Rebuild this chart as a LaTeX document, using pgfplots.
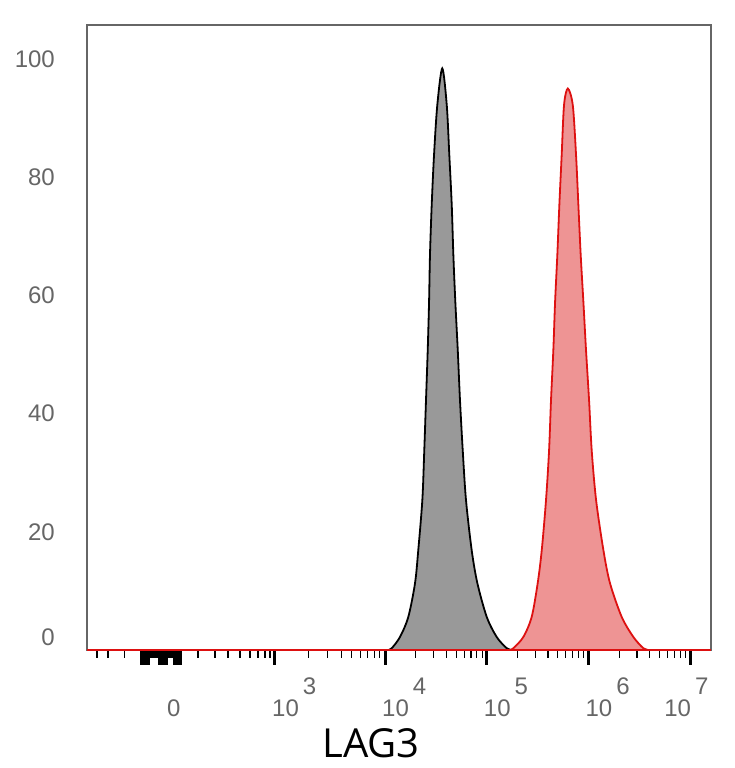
\documentclass[border=0pt]{standalone}
\usepackage{fontspec}
\setmainfont{Liberation Sans}
\newfontfamily\labfont{Open Sans}
\usepackage{pgfplots}
\usepackage{pgfplotstable}
\pgfplotsset{compat=1.18}
\definecolor{framegray}{HTML}{666666}
\definecolor{ticklab}{HTML}{666666}
\definecolor{grayfill}{HTML}{999999}
\definecolor{redfill}{HTML}{EE9494}
\definecolor{redline}{HTML}{DD1111}

\newcommand{\ex}[1]{10\hspace{4pt}\raisebox{22pt}{#1}}

% x in display decades (biexponential scale), y in % of max
\pgfplotstableread{
x y
4.030 0
4.066 0.3
4.147 2.2
4.229 5.6
4.295 11.3
4.327 16.9
4.367 25.4
4.386 33.8
4.403 42.3
4.420 50.8
4.433 58.9
4.442 66.8
4.459 75.3
4.482 83.8
4.514 92.2
4.563 98.4
4.607 92.2
4.632 83.8
4.656 75.3
4.672 66.8
4.691 59.0
4.715 50.8
4.737 42.3
4.764 33.8
4.796 25.4
4.852 16.9
4.908 11.3
5.000 5.6
5.098 2.2
5.197 0.3
5.249 0
}\isotype

\pgfplotstableread{
x y
5.229 0
5.262 0.3
5.360 2.2
5.442 5.6
5.501 11.3
5.541 16.9
5.583 25.4
5.613 33.8
5.632 42.3
5.655 50.8
5.672 58.9
5.694 66.8
5.714 75.3
5.737 83.8
5.760 92.2
5.797 95.0
5.846 92.2
5.878 83.8
5.901 75.3
5.924 66.8
5.950 59.0
5.976 50.8
6.006 42.3
6.032 33.8
6.075 25.4
6.147 16.9
6.212 11.3
6.327 5.6
6.442 2.2
6.540 0.3
6.596 0
}\lagthree

\pgfplotstableread{
x y
1.07 0
7.205 0
}\baseline

\begin{document}
\begin{tikzpicture}
\begin{axis}[name=ax,
  scale only axis, width=624pt, height=625pt,
  xmin=1.07, xmax=7.205, ymin=0, ymax=105.75,
  axis line style={framegray, line width=1.5pt},
  tick align=outside,
  xtick pos=bottom, ytick pos=left,
  xtick={1.832,2.918,4,5,6,7},
  xticklabels={\hspace*{5.5pt}0,\ex{3},\ex{4},\ex{5},\ex{6},\hspace*{-23pt}\ex{7}},
  minor xtick={1.168,1.276,1.443,
    1.69,1.70,1.71,1.72,1.73,1.74,1.75,1.76,1.77,
    1.86,1.87,1.88,1.89,1.90,1.91,
    2.161,2.328,2.456,2.574,2.673,2.751,2.820,2.869,
    3.244,3.434,3.569,3.674,3.760,3.832,3.895,3.950,
    4.301,4.477,4.602,4.699,4.778,4.845,4.903,4.954,
    5.301,5.477,5.602,5.699,5.778,5.845,5.903,5.954,
    6.301,6.477,6.602,6.699,6.778,6.845,6.903,6.954},
  extra x ticks={1.601,1.626,1.650,1.675,1.783,1.808,1.847,1.930,1.955,1.979,1.994},
  extra x tick labels={},
  extra x tick style={tick style={line width=2.6pt, black}},
  major tick length=15pt, minor tick length=8pt,
  xtick style={black, line width=1pt},
  minor x tick style={black, line width=1.1pt},
  major x tick style={line width=3pt},
  xticklabel style={anchor=north west, text height=35pt, text depth=0pt, inner sep=0pt,
    xshift=-3pt, yshift=-16pt, font=\fontsize{24}{24}\selectfont, text=ticklab},
  ytick={0,20,40,60,80,100},
  yticklabels={\raisebox{5pt}[0pt][0pt]{0},20,40,60,80,100},
  ytick style={draw=none},
  yticklabel style={anchor=east, inner sep=0pt, xshift=-17pt,
    font=\fontsize{24}{24}\selectfont, text=ticklab},
  xlabel={LAG3},
  xlabel style={at={(axis description cs:0.455,0)}, anchor=base, yshift=-107pt,
    font=\labfont\fontsize{40}{40}\selectfont, text=black},
  clip=true,
]
\addplot[fill=grayfill, draw=none, smooth, tension=0.5] table {\isotype} \closedcycle;
\addplot[black, line width=1.8pt, smooth, tension=0.5] table {\isotype};
\addplot[fill=redfill, draw=none, smooth, tension=0.5] table {\lagthree} \closedcycle;
\addplot[redline, line width=1.3pt] table {\baseline};
\addplot[redline, line width=1.8pt, smooth, tension=0.5] table {\lagthree};
\end{axis}
\pgfresetboundingbox
\path ([shift={(-87pt,-118pt)}]ax.south west) rectangle ([shift={(23pt,25pt)}]ax.north east);
\end{tikzpicture}
\end{document}
